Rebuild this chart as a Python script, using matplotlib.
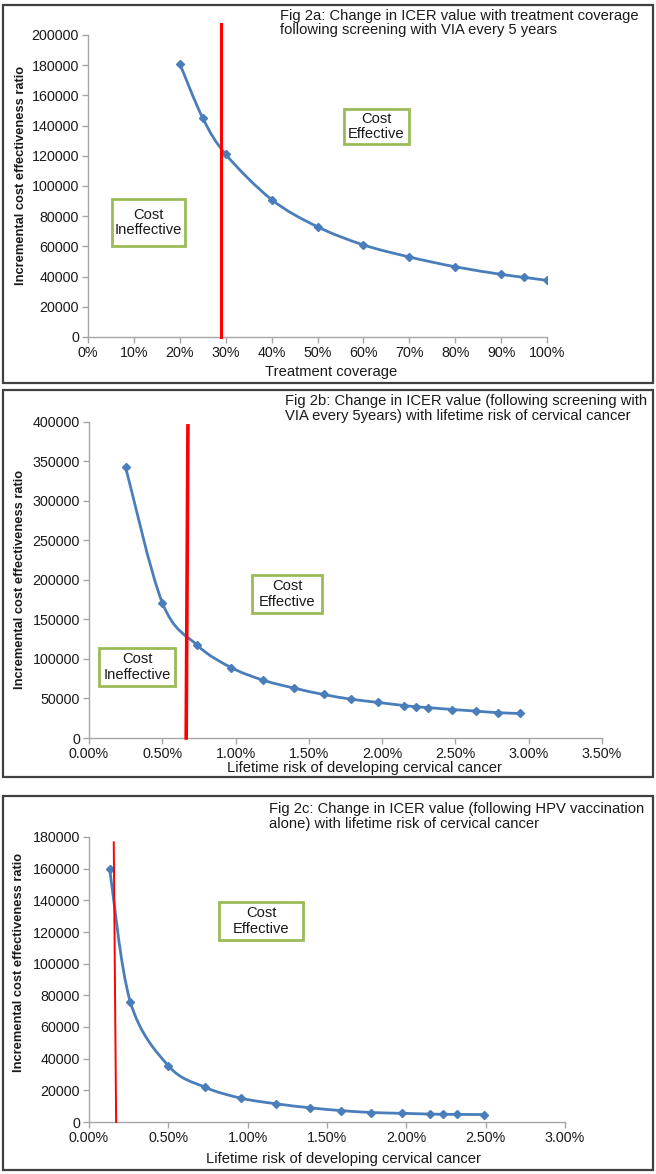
import matplotlib
matplotlib.use("Agg")
import matplotlib.pyplot as plt
import numpy as np
from matplotlib.path import Path
from matplotlib.patches import PathPatch, Rectangle
from matplotlib.ticker import FuncFormatter

plt.rcParams['font.family'] = ['Liberation Sans', 'DejaVu Sans']

# Fig 2a - treatment coverage (%) vs ICER
coverage = [20, 25, 30, 40, 50, 60, 70, 80, 90, 95, 100]
icer_a = [181000, 145000, 121000, 91000, 73000, 61000, 53000, 46500, 41500, 39500, 37500]
threshold_a_x = [29.0, 29.0]
threshold_a_y = [0, 207000]

# Fig 2b - lifetime risk (%) vs ICER, screening with VIA
risk_b = [0.25, 0.50, 0.74, 0.97, 1.19, 1.40, 1.60, 1.79, 1.97, 2.15, 2.23, 2.31, 2.48, 2.64, 2.79, 2.94]
icer_b = [342000, 171000, 117000, 89000, 73000, 63000, 55000, 49000, 45000, 41000, 39500,
          38500, 36000, 34000, 32000, 31000]
threshold_b_x = [0.663, 0.675]
threshold_b_y = [0, 394500]

# Fig 2c - lifetime risk (%) vs ICER, HPV vaccination alone
risk_c = [0.13, 0.26, 0.50, 0.73, 0.96, 1.18, 1.39, 1.59, 1.78, 1.97, 2.15, 2.23, 2.32, 2.49]
icer_c = [160000, 76000, 35500, 22000, 15000, 11500, 9000, 7200, 6000, 5500, 5000, 4900, 4800, 4700]
threshold_c_x = [0.171, 0.156]
threshold_c_y = [0, 176600]

titles = [
    "Fig 2a: Change in ICER value with treatment coverage\nfollowing screening with VIA every 5 years",
    "Fig 2b: Change in ICER value (following screening with\nVIA every 5years) with lifetime risk of cervical cancer",
    "Fig 2c: Change in ICER value (following HPV vaccination\nalone) with lifetime risk of cervical cancer",
]
ylabel = "Incremental cost effectiveness ratio"
xlabels = ["Treatment coverage",
           "Lifetime risk of developing cervical cancer",
           "Lifetime risk of developing cervical cancer"]

W, H = 656, 1174
BLUE = '#4a7ebb'
GREEN = '#9bbb59'
AXC = '#a6a6a6'
TXT = '#1a1a1a'

fig = plt.figure(figsize=(W / 100, H / 100), dpi=100)


def fx(x):
    return x / W


def fy(y):
    return 1 - y / H


def make_axes(left, top, right, bottom):
    return fig.add_axes([fx(left), fy(bottom), fx(right - left), (bottom - top) / H])


def smooth_path(x, y):
    # Excel-like smoothed line (Catmull-Rom as cubic beziers)
    pts = np.column_stack([x, y]).astype(float)
    n = len(pts)
    verts = [pts[0]]
    codes = [Path.MOVETO]
    for i in range(n - 1):
        p0 = pts[max(i - 1, 0)]
        p1 = pts[i]
        p2 = pts[i + 1]
        p3 = pts[min(i + 2, n - 1)]
        verts += [p1 + (p2 - p0) / 6, p2 - (p3 - p1) / 6, p2]
        codes += [Path.CURVE4] * 3
    return Path(verts, codes)


def style(ax, xmax, xstep, ymax, ystep, xfmt):
    ax.set_xlim(0, xmax)
    ax.set_ylim(0, ymax)
    ax.set_xticks(np.arange(0, xmax + xstep / 2, xstep))
    ax.set_yticks(np.arange(0, ymax + ystep / 2, ystep))
    ax.xaxis.set_major_formatter(FuncFormatter(xfmt))
    ax.yaxis.set_major_formatter(FuncFormatter(lambda v, p: f"{v:.0f}"))
    for s in ['top', 'right']:
        ax.spines[s].set_visible(False)
    for s in ['left', 'bottom']:
        ax.spines[s].set_color(AXC)
        ax.spines[s].set_linewidth(1.0)
    ax.tick_params(direction='out', length=4, width=1, color=AXC,
                   labelsize=10.3, labelcolor=TXT, pad=2.5)
    ax.patch.set_alpha(0)


def draw_series(ax, x, y):
    ax.add_patch(PathPatch(smooth_path(x, y), facecolor='none', edgecolor=BLUE,
                           lw=2.0, capstyle='round', zorder=3))
    ax.plot(x, y, linestyle='none', marker='D', markersize=4.5, color=BLUE, zorder=4)


def box(cx, cy, w, h, text):
    fig.add_artist(Rectangle((fx(cx - w / 2), fy(cy + h / 2)), fx(w), h / H,
                             transform=fig.transFigure, facecolor='white',
                             edgecolor=GREEN, lw=2.0, zorder=5))
    fig.text(fx(cx), fy(cy), text, ha='center', va='center', fontsize=10.6,
             linespacing=1.1, color=TXT, zorder=6)


def frame(top, bottom):
    fig.add_artist(Rectangle((fx(3), fy(bottom)), fx(650), (bottom - top) / H,
                             transform=fig.transFigure, facecolor='none',
                             edgecolor='#404040', lw=1.6))


# ---------- panel a ----------
frame(5, 383)
ax1 = make_axes(88, 35, 547, 337)
style(ax1, 100, 10, 200000, 20000, lambda v, p: f"{v:.0f}%")
draw_series(ax1, coverage, icer_a)
ax1.plot(threshold_a_x, threshold_a_y, color='#ff0000', lw=2.2, clip_on=False, zorder=5)
fig.text(fx(280), fy(9), titles[0], ha='left', va='top', fontsize=10.6,
         linespacing=1.02, color=TXT)
fig.text(fx(21), fy(175), ylabel, rotation=90, ha='center', va='center',
         fontsize=9.3, fontweight='bold', color=TXT)
fig.text(fx(331), fy(372), xlabels[0], ha='center', va='center', fontsize=10.6, color=TXT)
box(148.5, 222.5, 73, 47, "Cost\nIneffective")
box(376.5, 126.5, 65, 35, "Cost\nEffective")

# ---------- panel b ----------
frame(390, 777)
ax2 = make_axes(89, 421.5, 602, 738)
style(ax2, 3.5, 0.5, 400000, 50000, lambda v, p: f"{v:.2f}%")
draw_series(ax2, risk_b, icer_b)
ax2.plot(threshold_b_x, threshold_b_y, color='#ff0000', lw=2.6, clip_on=False, zorder=5)
fig.text(fx(285), fy(394), titles[1], ha='left', va='top', fontsize=10.6,
         linespacing=1.12, color=TXT)
fig.text(fx(20), fy(579), ylabel, rotation=90, ha='center', va='center',
         fontsize=9.3, fontweight='bold', color=TXT)
fig.text(fx(364), fy(768), xlabels[1], ha='center', va='center', fontsize=10.6, color=TXT)
box(287, 594, 70, 38, "Cost\nEffective")
box(137, 667, 76, 38, "Cost\nIneffective")

# ---------- panel c ----------
frame(796, 1170)
ax3 = make_axes(89, 837, 565, 1122)
style(ax3, 3.0, 0.5, 180000, 20000, lambda v, p: f"{v:.2f}%")
draw_series(ax3, risk_c, icer_c)
ax3.plot(threshold_c_x, threshold_c_y, color='#ff0000', lw=1.4, clip_on=False, zorder=5)
fig.text(fx(269), fy(802), titles[2], ha='left', va='top', fontsize=10.6,
         linespacing=1.12, color=TXT)
fig.text(fx(19), fy(962), ylabel, rotation=90, ha='center', va='center',
         fontsize=9.3, fontweight='bold', color=TXT)
fig.text(fx(344), fy(1159), xlabels[2], ha='center', va='center', fontsize=10.6, color=TXT)
box(261, 921, 84, 38, "Cost\nEffective")

fig.savefig("out.png", dpi=100, facecolor='white')
